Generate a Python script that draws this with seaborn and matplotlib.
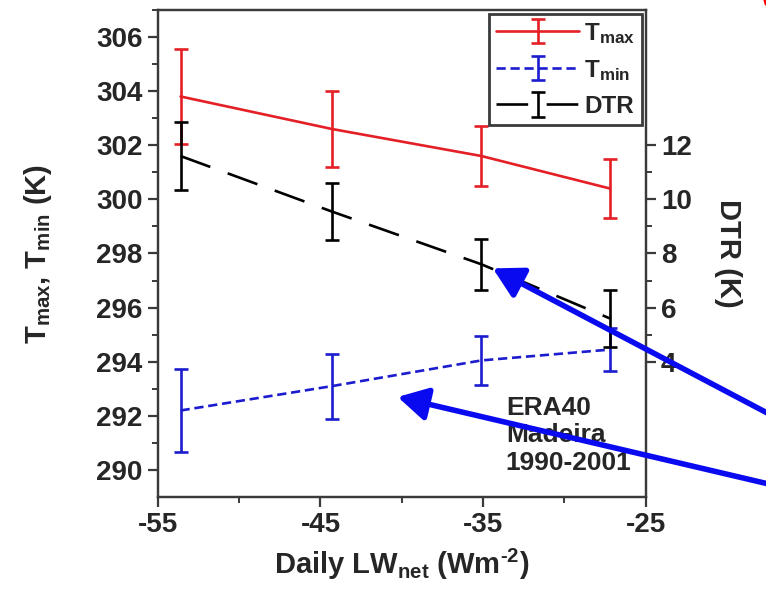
import numpy as np
import pandas as pd
import matplotlib
matplotlib.use("Agg")
import matplotlib.pyplot as plt
from matplotlib.lines import Line2D
from matplotlib.ticker import FixedLocator
import seaborn as sns

# values (ERA40, Madeira 1990-2001)
lw_net = [-53.6, -44.3, -35.1, -27.2]
tmax = [303.8, 302.6, 301.6, 300.4]
tmax_err = [1.75, 1.4, 1.1, 1.1]
tmin = [292.2, 293.1, 294.05, 294.45]
tmin_err = [1.55, 1.2, 0.9, 0.8]
dtr = [11.6, 9.55, 7.6, 5.6]
dtr_err = [1.25, 1.05, 0.95, 1.05]

x_ticks = [-55, -45, -35, -25]
left_ticks = [290, 292, 294, 296, 298, 300, 302, 304, 306]
right_ticks = [4, 6, 8, 10, 12]

sns.set_style("ticks")
plt.rcParams["font.family"] = ["Liberation Sans", "DejaVu Sans"]
plt.rcParams["font.weight"] = "bold"
plt.rcParams["axes.unicode_minus"] = False
plt.rcParams["mathtext.fontset"] = "custom"
plt.rcParams["mathtext.rm"] = "Liberation Sans:bold"
plt.rcParams["mathtext.it"] = "Liberation Sans:bold"
plt.rcParams["mathtext.bf"] = "Liberation Sans:bold"

red = "#e41f26"
blue = "#1c1ccf"
spine_col = "#3a3a3a"

fig = plt.figure(figsize=(7.66, 6.16), dpi=100)
ax = fig.add_axes([0.206, 0.193, 0.637, 0.791])
ax2 = ax.twinx()

df = pd.DataFrame({"lw": lw_net, "tmax": tmax, "tmin": tmin, "dtr": dtr})

sns.lineplot(data=df, x="lw", y="tmax", ax=ax, color=red, linewidth=1.9, legend=False)
l_max = ax.lines[-1]
sns.lineplot(data=df, x="lw", y="tmin", ax=ax, color=blue, linewidth=1.9, legend=False)
l_min = ax.lines[-1]
l_min.set_dashes([3.5, 1.8])
sns.lineplot(data=df, x="lw", y="dtr", ax=ax2, color="black", linewidth=1.9, legend=False)
l_dtr = ax2.lines[-1]
l_dtr.set_dashes([12, 7])

eb_max = ax.errorbar(lw_net, tmax, yerr=tmax_err, fmt="none", ecolor=red, elinewidth=1.9, capsize=5, capthick=1.9)
eb_min = ax.errorbar(lw_net, tmin, yerr=tmin_err, fmt="none", ecolor=blue, elinewidth=1.9, capsize=5, capthick=1.9)
eb_dtr = ax2.errorbar(lw_net, dtr, yerr=dtr_err, fmt="none", ecolor="black", elinewidth=1.9, capsize=5, capthick=1.9)

ax.set_xlim(-55, -25)
ax.set_ylim(289, 307)
ax2.set_ylim(-1, 17)

ax.set_xticks(x_ticks)
ax.xaxis.set_minor_locator(FixedLocator([-50, -40, -30]))
ax.set_yticks(left_ticks)
ax.yaxis.set_minor_locator(FixedLocator([291, 293, 295, 297, 299, 301, 303, 305, 307]))
ax2.set_yticks(right_ticks)
ax2.yaxis.set_minor_locator(FixedLocator([5, 7, 9, 11]))

for a in (ax, ax2):
    for s in a.spines.values():
        s.set_visible(True)
        s.set_color(spine_col)
        s.set_linewidth(1.6)
    a.tick_params(which="major", length=7, width=1.6, color=spine_col, labelsize=20, pad=4)
    a.tick_params(which="minor", length=4, width=1.4, color=spine_col)
ax.tick_params(axis="both", which="both", direction="out")
ax2.tick_params(axis="y", which="both", direction="out", right=True)
for lab in ax.get_xticklabels() + ax.get_yticklabels() + ax2.get_yticklabels():
    lab.set_fontweight("bold")

ax.set_xlabel(r"Daily LW$_{net}$ (Wm$^{\text{-}2}$)", fontsize=21, fontweight="bold", labelpad=6)
ax.set_ylabel("T$_{max}$, T$_{min}$ (K)", fontsize=21, fontweight="bold", labelpad=30)
ax2.set_ylabel("DTR (K)", fontsize=21, fontweight="bold", rotation=270, labelpad=36)

ax.text(-33.6, 292.75, "ERA40\nMadeira\n1990-2001", fontsize=19, fontweight="bold",
        ha="left", va="top", linespacing=1.2)

leg = ax2.legend([(l_max, eb_max), (l_min, eb_min), (l_dtr, eb_dtr)],
                 ["T$_{max}$", "T$_{min}$", "DTR"],
                 loc="upper right", borderaxespad=0.15, fontsize=17.5, handlelength=3.4,
                 handletextpad=0.2, labelspacing=0.5, borderpad=0.3, fancybox=False,
                 framealpha=1, edgecolor=spine_col)
leg.get_frame().set_linewidth(2)

# blue arrows coming in from the right edge of the slide
arrow = dict(arrowstyle="-|>,head_length=0.9,head_width=0.5", mutation_scale=20,
             lw=4, color="#0a0af0", shrinkA=0, shrinkB=0)
ax2.annotate("", xy=(-34.4, 297.45), xycoords=ax.transData,
             xytext=(790, 191), textcoords="figure pixels",
             arrowprops=arrow, annotation_clip=False)
ax2.annotate("", xy=(-40.25, 292.7), xycoords=ax.transData,
             xytext=(790, 127), textcoords="figure pixels",
             arrowprops=arrow, annotation_clip=False)

fig.add_artist(Line2D([0.9985, 1.0], [1.0, 0.993], transform=fig.transFigure, color="red", lw=2))

fig.savefig("out.png", dpi=100)
